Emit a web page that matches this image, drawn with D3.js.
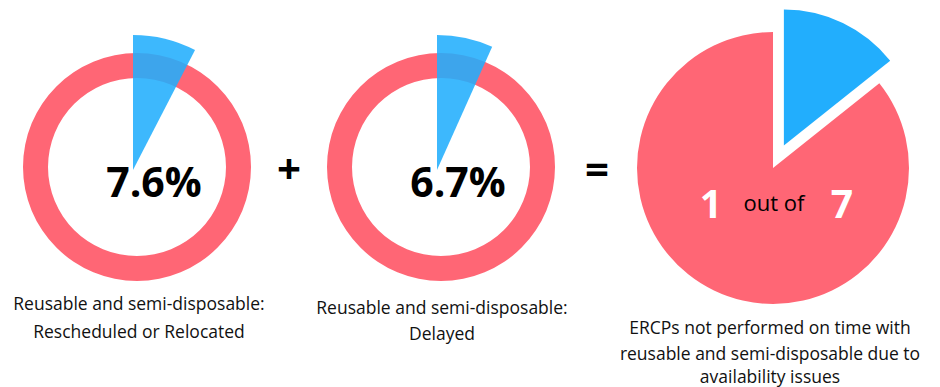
<!DOCTYPE html>
<html>
<head>
<meta charset="utf-8">
<script src="https://cdn.jsdelivr.net/npm/d3@7"></script>
<style>
  html, body { margin: 0; padding: 0; background: #ffffff; }
  svg { display: block; }
  text { font-family: "Open Sans", "Noto Sans", sans-serif; }
</style>
</head>
<body>
<svg id="chart" width="940" height="387"></svg>
<script>
// ---- data ----
const ringPercents = [7.6, 6.7];
const ringLabels = [
  ["Reusable and semi-disposable:", "Rescheduled or Relocated"],
  ["Reusable and semi-disposable:", "Delayed"]
];
const operators = ["+", "="];
const pieValues = [1, 6];          // 1 out of 7
const pieTotal = 7;
const pieWords = ["1", "out of", "7"];
const pieLabel = [
  "ERCPs not performed on time with",
  "reusable and semi-disposable due to",
  "availability issues"
];

// ---- styles ----
const RED = "#ff6675";
const BLUE = "#22aefd";

const svg = d3.select("#chart");
const angle = d3.scaleLinear().domain([0, 100]).range([0, 2 * Math.PI]);

// ring layout
const ringCX = [137, 441];
const ringCY = 167;
const ringArc = d3.arc().innerRadius(89).outerRadius(114).startAngle(0).endAngle(2 * Math.PI);
const wedgeArc = d3.arc().innerRadius(0).outerRadius(135).startAngle(0);
const labelBase = [[310, 338], [314, 340]];
const labelCX = [139, 442];

ringPercents.forEach((p, i) => {
  const g = svg.append("g");
  g.append("path")
    .attr("transform", `translate(${ringCX[i]},${ringCY})`)
    .attr("d", ringArc())
    .attr("fill", RED);
  g.append("path")
    .attr("transform", `translate(${ringCX[i] - 4},${ringCY + 3})`)
    .attr("d", wedgeArc({ endAngle: angle(p) }))
    .attr("fill", BLUE)
    .attr("fill-opacity", 0.88);
  g.append("text")
    .attr("x", ringCX[i] + 17)
    .attr("y", 197)
    .attr("text-anchor", "middle")
    .attr("font-size", 41)
    .attr("font-weight", 700)
    .attr("fill", "#000")
    .text(p.toFixed(1) + "%");
  ringLabels[i].forEach((line, j) => {
    g.append("text")
      .attr("x", labelCX[i])
      .attr("y", labelBase[i][j])
      .attr("text-anchor", "middle")
      .attr("font-size", 17.5)
      .attr("fill", "#111")
      .text(line);
  });
});

// operators
const opX = [289, 597];
operators.forEach((op, i) => {
  svg.append("text")
    .attr("x", opX[i])
    .attr("y", 184)
    .attr("text-anchor", "middle")
    .attr("font-size", 42)
    .attr("font-weight", 700)
    .attr("fill", "#000")
    .text(op);
});

// pie
const pieCX = 773, pieCY = 168, pieR = 136, explode = 25;
const pie = d3.pie().sort(null).value(d => d)(pieValues);
const pieArc = d3.arc().innerRadius(0).outerRadius(pieR);
const pg = svg.append("g").attr("transform", `translate(${pieCX},${pieCY})`);
pg.selectAll("path")
  .data(pie)
  .join("path")
  .attr("d", pieArc)
  .attr("fill", (d, i) => i === 0 ? BLUE : RED)
  .attr("transform", (d, i) => {
    if (i !== 0) return null;
    const mid = (d.startAngle + d.endAngle) / 2;
    return `translate(${explode * Math.sin(mid)},${-explode * Math.cos(mid)})`;
  });

// "1 out of 7"
const wordX = [711, 774, 842];
pieWords.forEach((w, i) => {
  const big = i !== 1;
  svg.append("text")
    .attr("x", wordX[i])
    .attr("y", big ? 218 : 211)
    .attr("text-anchor", "middle")
    .attr("font-size", big ? 39 : 22)
    .attr("font-weight", big ? 700 : 400)
    .attr("fill", big ? "#ffffff" : "#000")
    .text(w);
});

const pieLabelBase = [334, 360, 383];
pieLabel.forEach((line, j) => {
  svg.append("text")
    .attr("x", 770)
    .attr("y", pieLabelBase[j])
    .attr("text-anchor", "middle")
    .attr("font-size", 17.5)
    .attr("fill", "#111")
    .text(line);
});
</script>
</body>
</html>
